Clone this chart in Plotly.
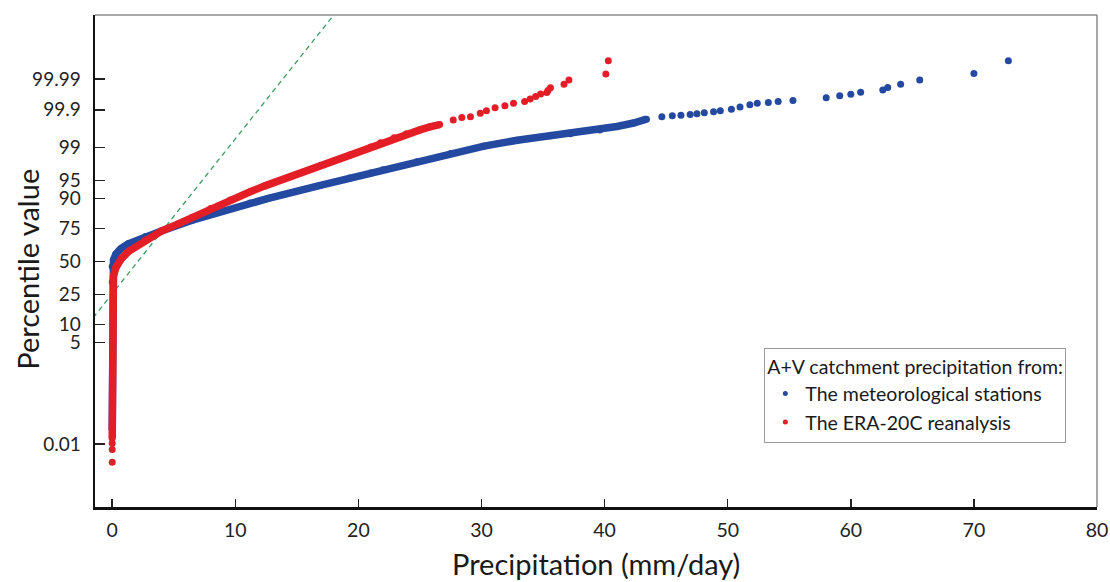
import plotly.graph_objects as go
from statistics import NormalDist

# ---------------- data ----------------
# Meteorological stations (blue) - densely populated part of the curve
st_x = [0.0, 0.0, 0.1, 0.3, 0.7, 1.3, 2.7, 4.0, 6.5, 9.0, 11.2, 12.6, 16.9, 19.3,
        21.0, 22.0, 24.75, 27.5, 30.2, 32.9, 35.6, 37.2, 39.6, 41.0, 42.35, 43.4]
st_p = [0.03, 46.02, 51.20, 55.96, 60.26, 64.06, 69.50, 73.24, 79.95, 84.85, 88.30,
        89.97, 93.94, 95.54, 96.41, 96.93, 97.88, 98.61, 99.06, 99.324, 99.477, 99.534,
        99.632, 99.702, 99.760, 99.813]
# Meteorological stations - individual extreme values
st_tail_x = [44.65, 45.5, 46.2, 46.95, 47.5, 48.1, 48.85, 49.4, 50.3, 51.0, 51.8, 52.4,
             53.3, 54.1, 55.3, 58.0, 59.1, 60.0, 60.8, 62.6, 63.0, 64.05, 65.6, 70.0, 72.8]
st_tail_p = [99.841, 99.851, 99.856, 99.861, 99.869, 99.878, 99.886, 99.893, 99.903,
             99.918, 99.929, 99.936, 99.940, 99.944, 99.948, 99.957, 99.963, 99.967,
             99.9717, 99.9761, 99.9804, 99.9848, 99.9891, 99.9935, 99.99784]

# ERA-20C reanalysis (red) - densely populated part
era_x = [0.0, 0.0, 0.1, 0.3, 0.7, 1.3, 2.7, 4.0, 5.4, 6.5, 8.0, 9.6, 11.2, 12.4, 14.5,
         16.9, 19.3, 21.0, 21.8, 22.9, 23.9, 25.0, 25.8, 26.6]
era_p = [0.0159, 33.72, 38.21, 45.22, 51.60, 57.93, 67.00, 73.24, 77.94, 81.59, 85.99,
         89.44, 92.22, 93.82, 95.82, 97.44, 98.50, 99.010, 99.224, 99.413, 99.534,
         99.632, 99.693, 99.736]
# ERA-20C reanalysis - individual extreme values
era_tail_x = [0.0, 0.0, 0.0, 27.7, 28.4, 29.1, 29.9, 30.4, 31.1, 31.9, 32.6, 33.5, 33.95,
              34.4, 34.8, 35.3, 35.4, 35.6, 36.7, 37.1, 40.1, 40.3]
era_tail_p = [0.00216, 0.0064, 0.0108, 99.801, 99.831, 99.841, 99.874, 99.893, 99.913,
              99.924, 99.936, 99.944, 99.953, 99.961, 99.9675, 99.971, 99.975, 99.980,
              99.9847, 99.9891, 99.9933, 99.99784]

# Normal distribution reference line (dashed): mean and standard deviation (mm/day)
fit_mean = 2.08
fit_sd = 3.17
fit_x = [-2.0, 20.0]

# Axis ticks
y_tick_pct = [0.01, 5, 10, 25, 50, 75, 90, 95, 99, 99.9, 99.99]
y_tick_text = ["0.01", "5", "10", "25", "50", "75", "90", "95", "99", "99.9", "99.99"]
x_tick_vals = [0, 10, 20, 30, 40, 50, 60, 70, 80]

# ---------------- helpers ----------------
nd = NormalDist()


def zval(p):
    return nd.inv_cdf(p / 100.0)


BLUE = "#2449A0"
RED = "#E41E26"
GREEN = "#3C9A5F"
FONT = "Lato"

fig = go.Figure()

# dashed normal line (under the data)
fig.add_trace(go.Scatter(
    x=fit_x, y=[(v - fit_mean) / fit_sd for v in fit_x], mode="lines",
    line=dict(color=GREEN, width=1.3, dash="5px,4px"), showlegend=False,
    hoverinfo="skip"))

# stations
fig.add_trace(go.Scatter(
    x=st_x, y=[zval(p) for p in st_p], mode="lines+markers",
    line=dict(color=BLUE, width=7.5), marker=dict(color=BLUE, size=7),
    showlegend=False))
fig.add_trace(go.Scatter(
    x=st_tail_x, y=[zval(p) for p in st_tail_p], mode="markers",
    marker=dict(color=BLUE, size=7), showlegend=False))

# ERA-20C
fig.add_trace(go.Scatter(
    x=era_x, y=[zval(p) for p in era_p], mode="lines+markers",
    line=dict(color=RED, width=7.5), marker=dict(color=RED, size=7),
    showlegend=False))
fig.add_trace(go.Scatter(
    x=era_tail_x, y=[zval(p) for p in era_tail_p], mode="markers",
    marker=dict(color=RED, size=7), showlegend=False))

# legend entries
fig.add_trace(go.Scatter(x=[None], y=[None], mode="markers",
                         marker=dict(color=BLUE, size=5),
                         name="The meteorological stations"))
fig.add_trace(go.Scatter(x=[None], y=[None], mode="markers",
                         marker=dict(color=RED, size=5),
                         name="The ERA-20C reanalysis"))

fig.update_layout(
    width=1110, height=582,
    margin=dict(l=95, r=13, t=15, b=75),
    paper_bgcolor="white", plot_bgcolor="white",
    font=dict(family=FONT, color="#1a1a1a"),
    showlegend=True, hovermode=False,
    legend=dict(
        title=dict(text="A+V catchment precipitation from:", font=dict(size=19.5)),
        font=dict(size=19.5), x=0.668, y=0.323, xanchor="left", yanchor="top",
        bordercolor="#9a9a9a", borderwidth=1, bgcolor="white",
        itemwidth=30, tracegroupgap=2),
    xaxis=dict(
        range=[-1.4, 80], tickvals=x_tick_vals, ticks="inside", ticklen=8,
        tickwidth=1.5, tickcolor="#222", showline=True, linecolor="#111",
        linewidth=2.5, showgrid=False, zeroline=False, automargin=False,
        tickfont=dict(size=19.5, color="#222"), ticklabelstandoff=4),
    yaxis=dict(
        range=[-5.0, 5.02], tickvals=[zval(p) for p in y_tick_pct],
        ticktext=y_tick_text, ticks="inside", ticklen=10, tickwidth=1.5,
        tickcolor="#222", showline=True, linecolor="#111", linewidth=2.5,
        showgrid=False, zeroline=False, automargin=False,
        tickfont=dict(size=19, color="#222"), ticklabelstandoff=8),
    annotations=[
        dict(text="Precipitation (mm/day)", xref="paper", yref="paper",
             x=0.5, y=-0.114, xanchor="center", yanchor="middle",
             showarrow=False, font=dict(size=29)),
        dict(text="Percentile value", xref="paper", yref="paper",
             x=-0.067, y=0.484, xanchor="center", yanchor="middle",
             textangle=-90, showarrow=False, font=dict(size=29)),
    ],
    shapes=[
        dict(type="line", xref="paper", yref="paper", x0=0, x1=1, y0=1, y1=1,
             line=dict(color="#8a8a8a", width=1.5)),
        dict(type="line", xref="paper", yref="paper", x0=1, x1=1, y0=0, y1=1,
             line=dict(color="#8a8a8a", width=1.5)),
    ],
)

# remove the default 8px page margin so the 1110x582 figure fills the window exactly
fig.write_html("out.html",
               config={"displayModeBar": False, "staticPlot": True},
               post_script="document.body.style.margin='0px';"
                           "document.body.style.overflow='hidden';")
